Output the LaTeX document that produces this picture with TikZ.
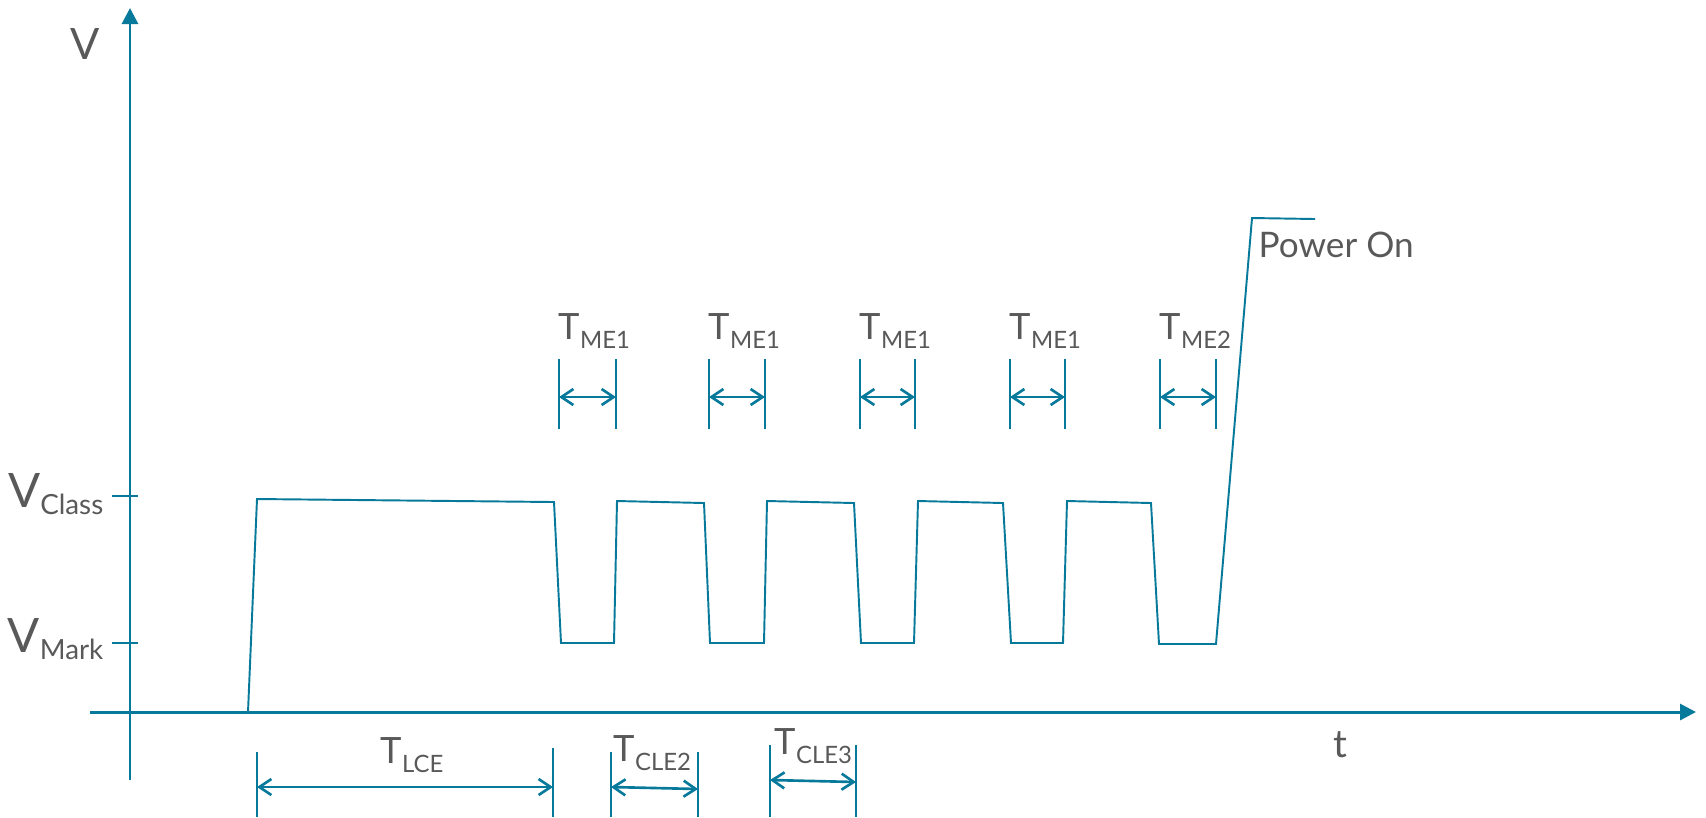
\documentclass[tikz,border=0pt]{standalone}
\usepackage{fontspec}
\setmainfont{Lato}
\usetikzlibrary{arrows.meta, positioning}
\definecolor{sigteal}{HTML}{07799A}
\definecolor{lblgray}{HTML}{595959}
% lowered small text for the label indices
\newcommand{\lowsub}[1]{\raisebox{-2.8pt}{\fontsize{6.8}{8}\selectfont #1}}
\newcommand{\vsub}[1]{\raisebox{-2pt}{\fontsize{7.9}{9}\selectfont #1}}

\begin{document}
\begin{tikzpicture}[
  x=0.01cm, y=-0.01cm,
  axis/.style={draw=sigteal, line width=0.85pt, -{Triangle[length=0.16cm, width=0.16cm]}},
  signal/.style={draw=sigteal, line width=0.55pt, line join=miter},
  guide/.style={draw=sigteal, line width=0.45pt},
  dim/.style={draw=sigteal, line width=0.75pt, {Straight Barb[length=0.12cm, width=0.16cm]}-{Straight Barb[length=0.12cm, width=0.16cm]}},
  lbl/.style={text=lblgray, inner sep=0pt, font=\fontsize{10.3}{12}\selectfont},
  vlbl/.style={text=lblgray, inner sep=0pt, font=\fontsize{13.5}{15}\selectfont}
]
\useasboundingbox (0,0) rectangle (1706,817);

% Axes
\draw[axis] (130,780) -- (130,8);
\draw[axis] (90,712) -- (1696,712);
\node[lbl, font=\fontsize{12.3}{14}\selectfont, anchor=base] (vaxis) at (85,59) {V};
\node[lbl, font=\fontsize{11}{13}\selectfont, anchor=base] (taxis) at (1340,757) {t};

% Voltage levels
\draw[guide] (112,496) -- (138,496);
\draw[guide] (112,643) -- (138,643);
\node[vlbl, anchor=base east] (vclass) at (104,507) {V\vsub{Class}};
\node[vlbl, anchor=base east] (vmark) at (104,652) {V\vsub{Mark}};

% Waveform
\draw[signal] (248,712) -- (257,499) -- (554,502) -- (561,643) -- (614,643)
  -- (617,501) -- (704,503) -- (710,643) -- (764,643)
  -- (767,501) -- (854,503) -- (861,643) -- (914,643)
  -- (918,501) -- (1003,503) -- (1011,643) -- (1063,643)
  -- (1067,501) -- (1151,503) -- (1159,644) -- (1216,644)
  -- (1252,218) -- (1315,219);
\node[lbl, font=\fontsize{10}{12}\selectfont, anchor=base west] (poweron) at (1258,257) {Power On};

% Mark event widths
\foreach \lx/\rx/\s [count=\i] in {559/616/ME1, 709/765/ME1, 860/915/ME1, 1010/1065/ME1, 1160/1216/ME2}{
  \node[lbl, anchor=base west] (tme\i) at (\lx-1,339) {T\lowsub{\s}};
  \draw[guide] (\lx,359) -- (\lx,429);
  \draw[guide] (\rx,359) -- (\rx,429);
  \coordinate (me\i l) at (\lx,397);
  \coordinate (me\i r) at (\rx,397);
  \draw[dim] (me\i l) -- (me\i r);
}

% Class event widths
\draw[guide] (257,752) -- (257,817);
\draw[guide] (553,748) -- (553,817);
\coordinate (lcel) at (257,787);
\coordinate (lcer) at (553,787);
\draw[dim] (lcel) -- (lcer);
\node[lbl, anchor=base west] (tlce) at (380,763) {T\lowsub{LCE}};

\draw[guide] (611,752) -- (611,817);
\draw[guide] (698,752) -- (698,817);
\coordinate (cle2l) at (611,787);
\coordinate (cle2r) at (698,789);
\draw[dim] (cle2l) -- (cle2r);
\node[lbl, anchor=base west] (tcle2) at (613,761) {T\lowsub{CLE2}};

\draw[guide] (770,745) -- (770,817);
\draw[guide] (856,745) -- (856,817);
\coordinate (cle3l) at (770,780);
\coordinate (cle3r) at (856,782);
\draw[dim] (cle3l) -- (cle3r);
\node[lbl, anchor=base west] (tcle3) at (774,754) {T\lowsub{CLE3}};
\end{tikzpicture}
\end{document}
